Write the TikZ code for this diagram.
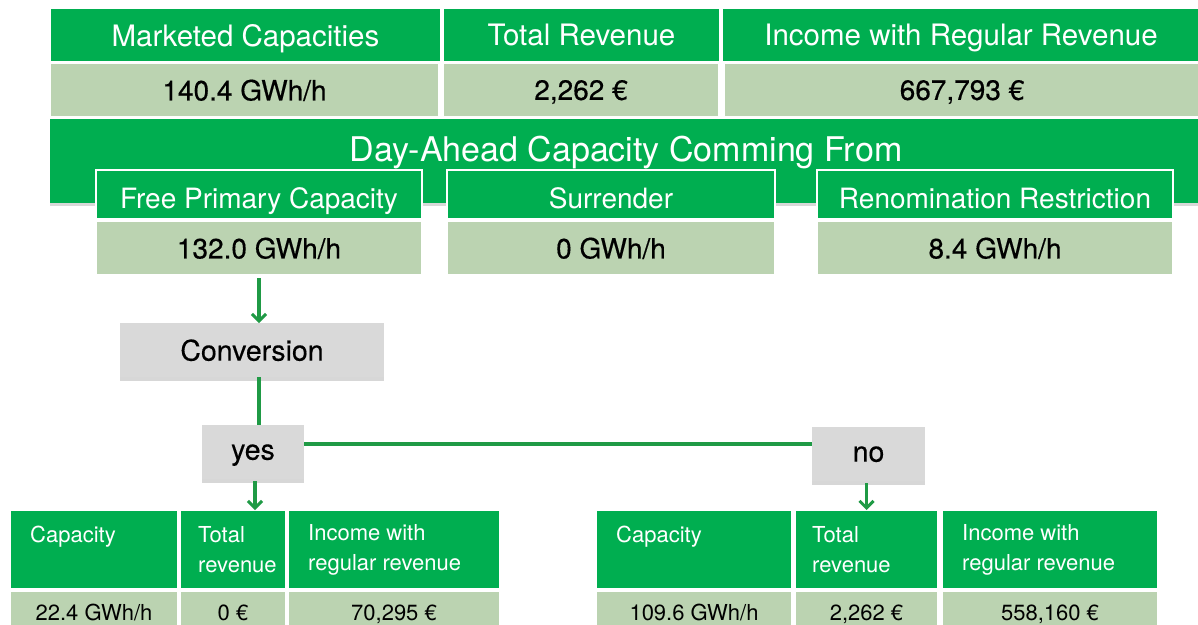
\documentclass[tikz,border=0pt]{standalone}
\usepackage{fontspec}
\setmainfont{TeX Gyre Heros}
\usetikzlibrary{arrows.meta,shadows}

\definecolor{hdrgreen}{HTML}{00AE50}
\definecolor{valgreen}{HTML}{BBD3B1}
\definecolor{boxgrey}{HTML}{D9D9D9}
\definecolor{linkgreen}{HTML}{1F9A45}

\newcommand\pxsize[2]{\fontsize{#1}{#2}\selectfont}

\tikzset{
  cell/.style={rectangle, anchor=north west, inner sep=0pt, outer sep=0pt,
               line width=1.2pt, draw=white, text depth=0pt},
  head/.style={cell, fill=hdrgreen, text=white},
  val/.style={cell, fill=valgreen, text=black},
  choice/.style={rectangle, anchor=north west, inner sep=0pt, outer sep=0pt,
                 fill=boxgrey, text=black, text depth=0pt,
                 font=\pxsize{28.5}{30}\addfontfeature{FakeBold=0.3},
                 drop shadow={shadow xshift=0pt, shadow yshift=-4pt,
                              opacity=0.22, fill=black!70}},
  softshadow/.style={drop shadow={shadow xshift=0pt, shadow yshift=-3pt,
                              opacity=0.25, fill=black!60}},
  link/.style={draw=linkgreen, line width=3.2pt},
  flow/.style={link, -{Straight Barb[length=7pt,width=14pt,line width=3pt]}},
  toptext/.style={font=\pxsize{29.5}{32}},
  valtext/.style={font=\pxsize{28}{30}\addfontfeature{FakeBold=0.4}},
  subtext/.style={font=\pxsize{28}{30}, text=white, inner sep=0pt, text depth=0pt},
  tabtext/.style={font=\pxsize{22}{30}, text=white, inner sep=0pt,
                  anchor=north west, align=left},
  tabval/.style={font=\pxsize{22}{26}},
}

\begin{document}
\begin{tikzpicture}[x=1pt, y=-1pt]
  \useasboundingbox (0,0) rectangle (1198,624);
  \clip (0,0) rectangle (1198,624);
  \fill[white] (0,0) rectangle (1198,624);

  % summary row
  \node[head, toptext, minimum width=391pt, minimum height=54pt] (mcH) at (50,8) {Marketed Capacities};
  \node[head, toptext, minimum width=277pt, minimum height=54pt] (trH) at (443,8) {Total Revenue};
  \node[head, toptext, minimum width=478pt, minimum height=54pt] (irH) at (722,8) {Income with Regular Revenue};
  \node[val, valtext, minimum width=389pt, minimum height=54pt] (mcV) at (50,63) {140.4 GWh/h};
  \node[val, valtext, minimum width=276pt, minimum height=54pt] (trV) at (443,63) {2,262 €};
  \node[val, valtext, minimum width=476pt, minimum height=54pt] (irV) at (724,63) {667,793 €};

  % day-ahead origin panel
  \node[cell, draw=none, fill=hdrgreen, softshadow, minimum width=1150pt, minimum height=84pt] (da) at (50,119) {};
  \node[text=white, font=\pxsize{34}{36}, inner sep=0pt, text depth=0pt] (daT) at (626,149) {Day-Ahead Capacity Comming From};

  \node[head, minimum width=326pt, minimum height=49pt] (fpH) at (96,170) {};
  \node[head, minimum width=328pt, minimum height=49pt] (suH) at (447,170) {};
  \node[head, minimum width=356pt, minimum height=49pt] (rrH) at (817,170) {};
  \node[subtext] at ([yshift=-3.5pt]fpH.center) {Free Primary Capacity};
  \node[subtext] at ([yshift=-3.5pt]suH.center) {Surrender};
  \node[subtext] at ([yshift=-3.5pt]rrH.center) {Renomination Restriction};
  \node[val, valtext, minimum width=326pt, minimum height=54pt] (fpV) at (96,221) {132.0 GWh/h};
  \node[val, valtext, minimum width=328pt, minimum height=54pt] (suV) at (447,221) {0 GWh/h};
  \node[val, valtext, minimum width=356pt, minimum height=54pt] (rrV) at (817,221) {8.4 GWh/h};

  % decision boxes
  \node[choice, minimum width=264pt, minimum height=54pt] (conv) at (120,323) {Conversion};
  \node[choice, minimum width=102pt, minimum height=54pt] (yes) at (202,425) {yes};
  \node[choice, minimum width=113pt, minimum height=54pt] (no) at (812,427) {no};

  % result table: conversion
  \node[head, minimum width=168pt, minimum height=79pt] (capL) at (10,510) {};
  \node[head, minimum width=106pt, minimum height=79pt] (totL) at (180,510) {};
  \node[head, minimum width=212pt, minimum height=79pt] (incL) at (288,510) {};
  \node[tabtext] at ([xshift=20pt, yshift=-16pt]capL.north west) {Capacity};
  \node[tabtext] at ([xshift=18pt, yshift=-16pt]totL.north west) {Total\\revenue};
  \node[tabtext] at ([xshift=20pt, yshift=-14pt]incL.north west) {Income with\\regular revenue};
  \node[val, tabval, minimum width=168pt, minimum height=43pt] (capLv) at (10,591) {22.4 GWh/h};
  \node[val, tabval, minimum width=106pt, minimum height=43pt] (totLv) at (180,591) {0 €};
  \node[val, tabval, minimum width=212pt, minimum height=43pt] (incLv) at (288,591) {70,295 €};

  % result table: no conversion
  \node[head, minimum width=196pt, minimum height=79pt] (capR) at (596,510) {};
  \node[head, minimum width=143pt, minimum height=79pt] (totR) at (795,510) {};
  \node[head, minimum width=216pt, minimum height=79pt] (incR) at (942,510) {};
  \node[tabtext] at ([xshift=20pt, yshift=-16pt]capR.north west) {Capacity};
  \node[tabtext] at ([xshift=17pt, yshift=-16pt]totR.north west) {Total\\revenue};
  \node[tabtext] at ([xshift=20pt, yshift=-14pt]incR.north west) {Income with\\regular revenue};
  \node[val, tabval, minimum width=196pt, minimum height=43pt] (capRv) at (596,591) {109.6 GWh/h};
  \node[val, tabval, minimum width=143pt, minimum height=43pt] (totRv) at (795,591) {2,262 €};
  \node[val, tabval, minimum width=216pt, minimum height=43pt] (incRv) at (942,591) {558,160 €};

  % connectors
  \draw[flow] ([yshift=-3pt]fpV.south) -- (fpV.south |- conv.north);
  \draw[link] (conv.south -| fpV.south) -- (yes.north -| fpV.south);
  \draw[link] ([yshift=8pt]yes.east) -- ([yshift=8pt]yes.east -| no.west);
  \draw[flow] ([xshift=2pt, yshift=-2pt]yes.south) -- ([xshift=2pt]yes.south |- totL.north);
  \draw[flow] ([xshift=-2pt, yshift=-2pt]no.south) -- ([xshift=-2pt]no.south |- totR.north);
\end{tikzpicture}
\end{document}
